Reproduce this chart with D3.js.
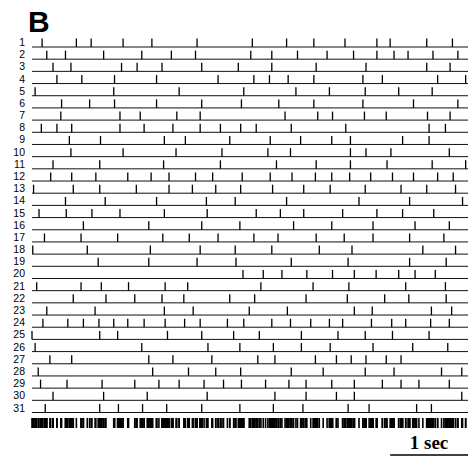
<!DOCTYPE html>
<html lang="en">
<head>
<meta charset="UTF-8">
<title>Raster B</title>
<script src="https://cdn.jsdelivr.net/npm/d3@7/dist/d3.min.js"></script>
<style>
  body { margin: 0; padding: 0; background: #fff; overflow: hidden; }
  .lbl { font: 10.5px "Liberation Sans", Arial, sans-serif; }
</style>
</head>
<body>
<div id="chart"></div>
<script>
// spike times (s) for each trial
const r1 = [0.13, 0.57, 0.76, 1.17, 1.54, 2.12, 2.83, 3.27, 3.62, 4.02, 4.43, 4.60, 5.07, 5.40];
const r2 = [0.19, 0.43, 0.92, 1.41, 1.79, 2.10, 2.81, 3.08, 3.41, 3.79, 4.13, 4.43, 4.65, 4.83, 5.15, 5.47];
const r3 = [0.27, 0.50, 1.15, 1.35, 1.67, 2.18, 2.65, 3.08, 3.65, 4.29, 5.07, 5.37];
const r4 = [0.32, 0.64, 1.06, 1.60, 2.39, 2.85, 3.05, 3.29, 3.62, 4.25, 4.50, 5.21, 5.57];
const r5 = [0.04, 1.05, 1.89, 2.72, 3.39, 3.82, 4.28, 4.71, 5.14];
const r6 = [0.38, 0.74, 1.06, 1.60, 2.18, 2.69, 3.17, 3.62, 4.25, 4.90, 5.47];
const r7 = [0.37, 1.13, 1.39, 1.86, 2.16, 3.25, 3.67, 3.86, 4.27, 4.55, 5.08, 5.37];
const r8 = [0.12, 0.32, 0.51, 1.13, 1.44, 1.81, 2.16, 2.42, 2.68, 2.88, 3.33, 4.03, 5.10, 5.31];
const r9 = [0.48, 0.88, 1.70, 1.97, 2.54, 3.06, 3.45, 3.85, 4.09, 4.76, 5.10];
const r10 = [0.50, 1.17, 1.85, 2.44, 3.03, 3.32, 4.09, 4.29, 4.61, 5.36];
const r11 = [0.27, 0.87, 1.69, 2.42, 3.14, 3.65, 4.09, 4.56, 5.14, 5.57];
const r12 = [0.24, 0.51, 0.82, 1.23, 1.53, 1.76, 2.10, 2.32, 2.70, 3.06, 3.34, 3.64, 3.85, 4.08, 4.35, 4.63, 4.90, 5.21, 5.41];
const r13 = [0.02, 0.53, 0.87, 1.34, 1.76, 2.06, 2.36, 2.68, 3.09, 3.49, 3.83, 4.28, 4.74, 5.07, 5.44];
const r14 = [0.43, 0.94, 1.60, 2.24, 2.61, 3.27, 4.20, 4.85, 5.53];
const r15 = [0.09, 0.44, 0.77, 1.13, 1.70, 2.25, 2.88, 3.19, 3.49, 3.99, 4.43, 4.76, 5.16];
const r16 = [0.66, 1.50, 2.18, 2.67, 3.36, 3.85, 4.38, 4.92, 5.36];
const r17 = [0.16, 0.63, 1.10, 1.68, 2.02, 2.39, 2.85, 3.16, 3.65, 4.01, 4.38, 4.85, 5.29];
const r18 = [0.01, 0.71, 1.52, 2.16, 2.61, 3.08, 3.69, 4.11, 5.02, 5.44];
const r19 = [0.85, 1.50, 2.12, 2.62, 3.33, 4.06, 4.85, 5.32];
const r20 = [2.71, 2.97, 3.21, 3.53, 3.86, 4.14, 4.42, 4.71, 4.92, 5.18];
const r21 = [0.06, 0.63, 0.89, 1.24, 1.71, 2.00, 2.94, 3.61, 4.07, 4.80, 5.31];
const r22 = [0.53, 0.95, 1.32, 1.67, 1.95, 2.54, 2.86, 3.52, 4.05, 4.53, 4.84, 5.32];
const r23 = [0.19, 0.81, 1.70, 2.07, 2.79, 3.28, 4.14, 4.37, 5.13, 5.39];
const r24 = [0.14, 0.46, 0.66, 0.86, 1.05, 1.23, 1.44, 1.71, 1.96, 2.16, 2.51, 2.72, 3.08, 3.32, 3.58, 3.82, 3.99, 4.36, 4.62, 4.80, 5.12, 5.36];
const r25 = [0.00, 0.87, 1.10, 1.74, 2.18, 2.59, 2.92, 3.46, 3.93, 4.28, 4.63, 5.10];
const r26 = [0.04, 1.41, 2.26, 2.67, 3.10, 3.46, 3.83, 4.38, 4.89, 5.34];
const r27 = [0.23, 0.51, 1.50, 1.81, 2.31, 2.90, 3.12, 3.64, 3.91, 4.10, 4.29, 4.55, 4.74];
const r28 = [0.08, 1.55, 2.01, 2.36, 2.68, 3.33, 3.74, 4.28, 4.65, 5.26, 5.52];
const r29 = [0.11, 0.45, 0.90, 1.32, 1.63, 1.89, 2.21, 2.46, 2.69, 3.00, 3.30, 3.52, 3.85, 4.14, 4.50, 4.74, 4.97, 5.36];
const r30 = [0.27, 0.92, 1.48, 2.25, 3.12, 3.52, 3.91, 4.14, 5.52];
const r31 = [0.17, 0.87, 1.11, 1.42, 1.73, 2.18, 2.67, 3.10, 3.48, 4.06, 4.33, 4.94, 5.13];

const trials = [r1, r2, r3, r4, r5, r6, r7, r8, r9, r10, r11, r12, r13, r14, r15, r16,
                r17, r18, r19, r20, r21, r22, r23, r24, r25, r26, r27, r28, r29, r30, r31];
const trialLabels = trials.map((d, i) => String(i + 1));
const duration = 5.6;   // seconds shown
const scaleBarSec = 1;

const width = 470, height = 461;

const svg = d3.select('#chart')
    .append('svg')
    .attr('width', width)
    .attr('height', height);

const x = d3.scaleLinear().domain([0, duration]).range([32, 468]);
const y = d3.scalePoint().domain(trialLabels).range([47, 412.5]);

// panel letter
svg.append('text')
    .attr('x', 28)
    .attr('y', 32)
    .attr('font-family', 'Liberation Sans, Arial, sans-serif')
    .attr('font-weight', 'bold')
    .attr('font-size', 30)
    .text('B');

const rows = svg.append('g')
    .selectAll('g')
    .data(trials)
    .enter().append('g')
    .attr('transform', (d, i) => `translate(0,${y(trialLabels[i])})`);

rows.append('line')
    .attr('x1', x(0))
    .attr('x2', x(duration))
    .attr('stroke', '#111')
    .attr('stroke-width', 1);

rows.selectAll('.spk')
    .data(d => d)
    .enter().append('line')
    .attr('class', 'spk')
    .attr('x1', d => x(d))
    .attr('x2', d => x(d))
    .attr('y1', -8.5)
    .attr('y2', 0)
    .attr('stroke', '#000')
    .attr('stroke-width', 1.3);

rows.append('text')
    .attr('class', 'lbl')
    .attr('x', 25)
    .attr('y', -1)
    .attr('text-anchor', 'end')
    .text((d, i) => trialLabels[i]);

// all trials pooled into one strip
const pooled = trials.flat();
svg.append('g')
    .selectAll('rect')
    .data(pooled)
    .enter().append('rect')
    .attr('x', d => x(d) - 0.8)
    .attr('y', 418)
    .attr('width', 1.6)
    .attr('height', 10)
    .attr('fill', '#000');

// scale bar
const sb = svg.append('g');
sb.append('line')
    .attr('x1', x(duration) - (x(scaleBarSec) - x(0)))
    .attr('x2', x(duration))
    .attr('y1', 455)
    .attr('y2', 455)
    .attr('stroke', '#000')
    .attr('stroke-width', 1.5);
sb.append('text')
    .attr('x', 429)
    .attr('y', 449)
    .attr('text-anchor', 'middle')
    .attr('font-family', 'Liberation Serif, Times New Roman, serif')
    .attr('font-weight', 'bold')
    .attr('font-size', 19)
    .text('1 sec');
</script>
</body>
</html>
